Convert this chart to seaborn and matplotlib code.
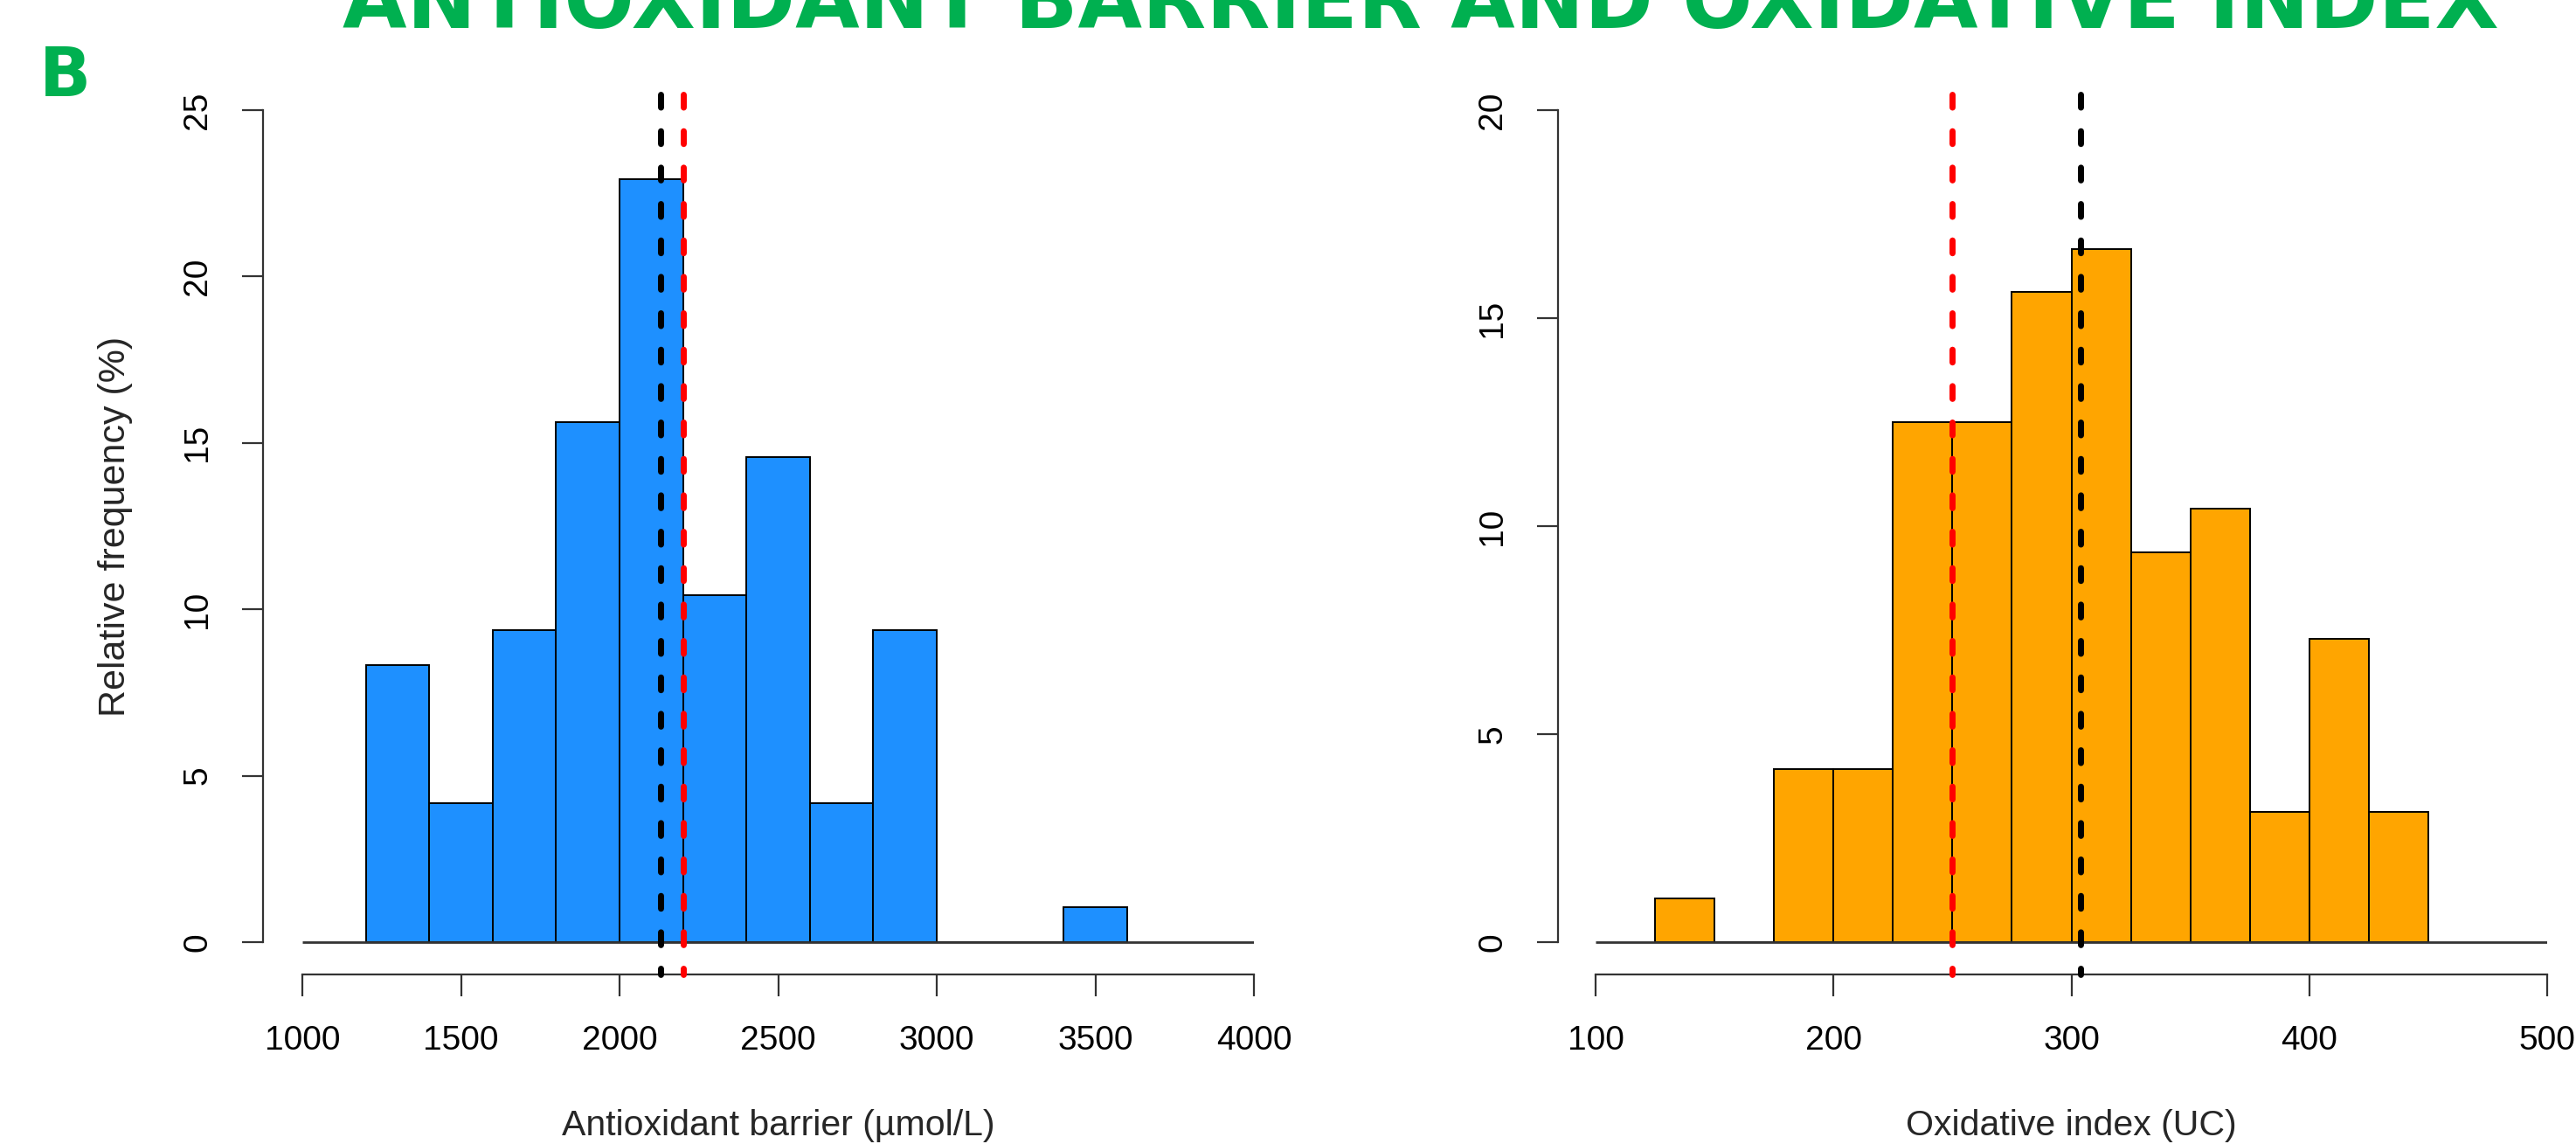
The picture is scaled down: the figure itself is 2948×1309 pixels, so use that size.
import numpy as np
import pandas as pd
import matplotlib
matplotlib.use("Agg")
import matplotlib.pyplot as plt
import seaborn as sns

# ---- data -------------------------------------------------------------
# Antioxidant barrier (µmol/L): bin edges and relative frequency (%)
ab_edges = [1200, 1400, 1600, 1800, 2000, 2200, 2400, 2600, 2800, 3000, 3200, 3400, 3600]
ab_pct = [8.33, 4.17, 9.38, 15.63, 22.92, 10.42, 14.58, 4.17, 9.38, 0.0, 0.0, 1.04]
ab_xticks = [1000, 1500, 2000, 2500, 3000, 3500, 4000]
ab_yticks = [0, 5, 10, 15, 20, 25]
ab_line_black = 2129
ab_line_red = 2201

# Oxidative index (UC): bin edges and relative frequency (%)
oi_edges = [125, 150, 175, 200, 225, 250, 275, 300, 325, 350, 375, 400, 425, 450]
oi_pct = [1.04, 0.0, 4.17, 4.17, 12.5, 12.5, 15.63, 16.67, 9.38, 10.42, 3.13, 7.29, 3.13]
oi_xticks = [100, 200, 300, 400, 500]
oi_yticks = [0, 5, 10, 15, 20]
oi_line_red = 250
oi_line_black = 304

title_text = "ANTIOXIDANT BARRIER AND OXIDATIVE INDEX"
panel_tag = "B"
ab_xlabel = "Antioxidant barrier (µmol/L)"
oi_xlabel = "Oxidative index (UC)"
ylabel_text = "Relative frequency (%)"

# ---- style ------------------------------------------------------------
sns.set_style("ticks")
plt.rcParams["font.family"] = ["Liberation Sans", "DejaVu Sans"]

GREEN = "#00B050"
AXC = "#333333"
W, H, DPI = 2948, 1309, 100
PT = 72.0 / DPI  # pixels -> points

fig = plt.figure(figsize=(W / DPI, H / DPI), dpi=DPI)
fig.patch.set_facecolor("white")

# vertical layout (pixels from the top)
Y_TOP, Y_AXIS, Y_ZERO, Y_TICKTOP = 108, 1115, 1078, 126
Y_XLABEL = 1288


def panel(x0, x1, spine_x, edges, pct, color, xticks, yticks,
          lines, xlabel, ylabel=None):
    ax = fig.add_axes([x0 / W, (H - Y_AXIS) / H, (x1 - x0) / W, (Y_AXIS - Y_TOP) / H])
    scale = (Y_ZERO - Y_TICKTOP) / yticks[-1]
    ax.set_xlim(xticks[0], xticks[-1])
    ax.set_ylim(-(Y_AXIS - Y_ZERO) / scale, (Y_ZERO - Y_TOP) / scale)

    centers = [(a + b) / 2 for a, b in zip(edges[:-1], edges[1:])]
    df = pd.DataFrame({"x": centers, "w": pct})
    sns.histplot(data=df, x="x", weights="w", bins=edges, ax=ax,
                 color=color, alpha=1, edgecolor="black", linewidth=1.4,
                 zorder=2)

    # baseline across the whole x range
    ax.hlines(0, xticks[0], xticks[-1], color=AXC, lw=2.0, zorder=3)

    # dashed reference lines, drawn from the top down
    trans = ax.get_xaxis_transform()
    for xv, c in lines:
        ax.vlines(xv, 1, 0, transform=trans, colors=c, lw=5,
                  linestyles=(0, (2.1, 3.9)), capstyle="round",
                  clip_on=False, zorder=4)

    sns.despine(ax=ax)
    ax.spines["left"].set_position(("outward", (x0 - spine_x) * PT))
    ax.spines["left"].set_bounds(yticks[0], yticks[-1])
    ax.spines["bottom"].set_bounds(xticks[0], xticks[-1])
    for s in ("left", "bottom"):
        ax.spines[s].set_color(AXC)
        ax.spines[s].set_linewidth(1.6)

    ax.set_xticks(xticks)
    ax.set_yticks(yticks)
    ax.set_xticklabels([str(t) for t in xticks])
    ax.set_yticklabels([str(t) for t in yticks], rotation=90, va="center", ha="right")
    ax.tick_params(axis="x", length=25 * PT, width=1.6, color=AXC,
                   pad=33 * PT, labelsize=28, labelcolor="black")
    ax.tick_params(axis="y", length=24 * PT, width=1.6, color=AXC,
                   pad=33 * PT, labelsize=28, labelcolor="black")
    ax.grid(False)

    ax.set_xlabel(xlabel, fontsize=29.5, va="center")
    ax.xaxis.set_label_coords(0.5, (Y_AXIS - Y_XLABEL) / (Y_AXIS - Y_TOP))
    if ylabel:
        ax.set_ylabel(ylabel, fontsize=31, va="center")
        ax.yaxis.set_label_coords((132 - x0) / (x1 - x0),
                                  (Y_AXIS - (Y_ZERO + Y_TICKTOP) / 2) / (Y_AXIS - Y_TOP))
    else:
        ax.set_ylabel("")
    return ax


panel(346, 1435, 301, ab_edges, ab_pct, "#1E90FF", ab_xticks, ab_yticks,
      [(ab_line_black, "black"), (ab_line_red, "#FF0000")], ab_xlabel, ylabel_text)
panel(1826, 2915, 1783, oi_edges, oi_pct, "#FFA500", oi_xticks, oi_yticks,
      [(oi_line_red, "#FF0000"), (oi_line_black, "black")], oi_xlabel)

# headline, sized to span its slot
title = fig.text(1625.5 / W, (H - 32) / H, title_text, ha="center", va="baseline",
                 color=GREEN, fontsize=70, fontweight="bold", family="DejaVu Sans")
fig.canvas.draw()
bb = title.get_window_extent(fig.canvas.get_renderer())
title.set_fontsize(70 * 2467 / bb.width)

fig.text(45 / W, (H - 110) / H, panel_tag, ha="left", va="baseline",
         color=GREEN, fontsize=56, fontweight="bold", family="DejaVu Sans")

fig.savefig("out.png", dpi=DPI, facecolor="white")
